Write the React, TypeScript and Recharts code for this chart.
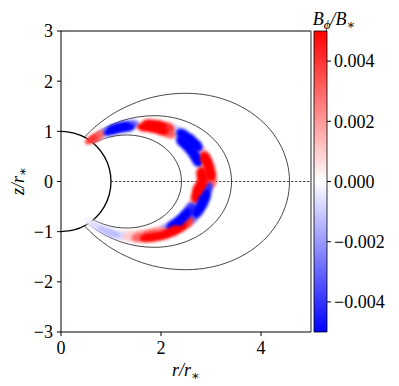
import {
  ComposedChart,
  Line,
  Scatter,
  XAxis,
  YAxis,
  ReferenceLine,
  ReferenceArea,
} from 'recharts'

const SERIF = '"Liberation Serif", Tinos, "Nimbus Roman", "Noto Serif", "DejaVu Serif", serif'

// dipole field lines, northern half [r/r*, z/r*], from footpoint to the equator
const lineInner = [
  [0.644, 0.765], [0.852, 0.852], [1.083, 0.909], [1.325, 0.928], [1.565, 0.904],
  [1.794, 0.837], [2.0, 0.728], [2.172, 0.582], [2.302, 0.406], [2.383, 0.209], [2.41, 0],
]
const lineMiddle = [
  [0.542, 0.841], [0.693, 0.953], [0.906, 1.079], [1.206, 1.206], [1.533, 1.286],
  [1.874, 1.312], [2.215, 1.279], [2.538, 1.184], [2.83, 1.03], [3.073, 0.824],
  [3.257, 0.574], [3.371, 0.295], [3.41, 0],
]
const lineOuter = [
  [0.468, 0.884], [0.68, 1.088], [0.928, 1.277], [1.214, 1.446], [1.616, 1.616],
  [2.054, 1.724], [2.512, 1.758], [2.968, 1.714], [3.402, 1.586], [3.792, 1.38],
  [4.119, 1.104], [4.365, 0.769], [4.518, 0.395], [4.57, 0],
]
// stellar surface, northern half
const starUpper = [
  [0, 1], [0.259, 0.966], [0.5, 0.866], [0.707, 0.707], [0.866, 0.5], [0.966, 0.259], [1, 0],
]

// centre line of the perturbed flux tube, north footpoint -> south footpoint
const bandX = [
  0.589, 0.723, 0.869, 1.025, 1.19, 1.361, 1.536, 1.711, 1.884, 2.051, 2.211, 2.36, 2.495,
  2.613, 2.714, 2.794, 2.852, 2.888, 2.9, 2.819, 2.783, 2.727, 2.649, 2.55, 2.435, 2.303,
  2.158, 2.002, 1.839, 1.67, 1.499, 1.328, 1.161, 1.0, 0.848, 0.706, 0.575,
]
const bandZ = [
  0.811, 0.892, 0.965, 1.025, 1.072, 1.102, 1.116, 1.111, 1.088, 1.045, 0.984, 0.906, 0.811,
  0.7, 0.577, 0.442, 0.3, 0.151, 0, -0.147, -0.293, -0.431, -0.563, -0.683, -0.792, -0.884,
  -0.96, -1.02, -1.062, -1.084, -1.089, -1.076, -1.046, -1.0, -0.942, -0.871, -0.792,
]
// B_phi / B_* (units of 1e-3) on the inner and outer flank of the tube
const bandInner = [
  3, 3, -1, -5, -7, -5, 0, 5, 8, 7, 3, 0, -6,
  -8, -8, -5, 0, 6, 8, 8, 5, 1, -4, -7, -8, -6,
  -2, 2, 3, 2, 1, 0.5, 0, 0, 0, 0, 0,
]
const bandOuter = [
  4, 3, -2, -6, -7, -3, 0, 6, 7, 4, -1, -6, -8,
  -6, 1, 6, 8, 8, 3, -4, -7, -8, -7, -3, 4, 7,
  8, 8, 7, 5, 3, 1, -0.8, -1.3, -1.2, -0.7, -0.3,
]

const rTicks = [0, 2, 4]
const zTicks = [-3, -2, -1, 0, 1, 2, 3]
const cbarTicks = [-0.004, -0.002, 0, 0.002, 0.004]
const cbarLimit = 0.005

const mirror = (pts: number[][]) => [
  ...pts.map(([x, z]) => ({ x, z })),
  ...pts.slice(0, -1).reverse().map(([x, z]) => ({ x, z: -z })),
]

const minus = (s: string) => s.replace('-', '\u2212')

function bwr(v: number) {
  const t = Math.min(Math.abs(v) / (cbarLimit * 1000), 1)
  const c = Math.round(255 * (1 - t))
  return v > 0 ? `rgb(255,${c},${c})` : `rgb(${c},${c},255)`
}

// elongated blob aligned with the neighbouring samples (equal x/z scale)
function BandBlob(props: any) {
  const { cx, cy, payload } = props
  if (Math.abs(payload.v) < 0.3) return <g />
  const ang = (Math.atan2(-(payload.zn - payload.zp), payload.xn - payload.xp) * 180) / Math.PI
  const ry = 3 + 0.9 * payload.x
  return (
    <ellipse
      cx={cx}
      cy={cy}
      rx={7.5}
      ry={ry}
      transform={`rotate(${ang}, ${cx}, ${cy})`}
      fill={bwr(payload.v)}
      filter="url(#soften)"
    />
  )
}

const fontCss = { fontFamily: SERIF }
const tickStyle = { fontFamily: SERIF, fontSize: 18, fill: '#000', style: fontCss }

// the two flanks sit on field lines slightly inside / outside the centre line
const flanks: [number[], number][] = [
  [bandInner, 0.975],
  [bandOuter, 1.035],
]

export default function App() {
  const last = bandX.length - 1
  const bandData = flanks
    .flatMap(([vals, k]) =>
      bandX.map((x, i) => {
        const p = Math.max(i - 1, 0)
        const n = Math.min(i + 1, last)
        return {
          x: x * k,
          z: bandZ[i] * k,
          v: vals[i],
          xp: bandX[p],
          zp: bandZ[p],
          xn: bandX[n],
          zn: bandZ[n],
        }
      }),
    )
    .filter((d) => d.x * d.x + d.z * d.z > 1)
    .sort((a, b) => Math.abs(a.v) - Math.abs(b.v))

  const fieldLines = [lineInner, lineMiddle, lineOuter]
  const cbarSpan = [
    { x: 0.5, z: -cbarLimit },
    { x: 0.5, z: cbarLimit },
  ]

  return (
    <div style={{ position: 'absolute', left: 0, top: 0, width: 399, height: 386, background: '#fff' }}>
      <div style={{ position: 'absolute', left: 0, top: 0 }}>
        <ComposedChart width={320} height={386} margin={{ top: 31, right: 9, bottom: 0, left: 0 }}>
          <defs>
            <filter id="soften" x="-60%" y="-60%" width="220%" height="220%">
              <feGaussianBlur stdDeviation="1.8" />
            </filter>
          </defs>
          <XAxis
            type="number"
            dataKey="x"
            domain={[0, 5]}
            ticks={rTicks}
            allowDataOverflow
            height={54}
            tick={tickStyle}
            tickSize={4}
            tickMargin={5}
            stroke="#000"
            label={() => (
              <text x={186} y={376} textAnchor="middle" fontSize={18} fontStyle="italic" style={fontCss}>
                r/r<tspan fontSize={13} dy={4}>∗</tspan>
              </text>
            )}
          />
          <YAxis
            type="number"
            dataKey="z"
            domain={[-3, 3]}
            ticks={zTicks}
            allowDataOverflow
            width={61}
            tick={tickStyle}
            tickSize={4}
            tickMargin={4}
            stroke="#000"
            tickFormatter={(v: number) => minus(String(v))}
            label={() => (
              <text
                x={18}
                y={181}
                transform="rotate(-90, 18, 181)"
                textAnchor="middle"
                dominantBaseline="central"
                fontSize={18}
                fontStyle="italic"
                style={fontCss}
              >
                z/r<tspan fontSize={13} dy={4}>∗</tspan>
              </text>
            )}
          />
          <Scatter data={bandData} shape={BandBlob} isAnimationActive={false} />
          {fieldLines.map((pts, i) => (
            <Line
              key={i}
              data={mirror(pts)}
              dataKey="z"
              type="natural"
              stroke="#333"
              strokeWidth={0.9}
              dot={false}
              activeDot={false}
              isAnimationActive={false}
            />
          ))}
          <Line
            data={mirror(starUpper)}
            dataKey="z"
            type="natural"
            stroke="#000"
            strokeWidth={1.3}
            dot={false}
            activeDot={false}
            isAnimationActive={false}
          />
          <ReferenceLine
            segment={[{ x: 1, y: 0 }, { x: 5, y: 0 }]}
            stroke="#000"
            strokeWidth={0.7}
            strokeDasharray="2.5 1.5"
          />
          <ReferenceLine y={3} stroke="#000" strokeWidth={1} />
          <ReferenceLine x={5} stroke="#666" strokeWidth={1.4} />
        </ComposedChart>
      </div>
      <div style={{ position: 'absolute', left: 250, top: 0 }}>
        <ComposedChart width={149} height={386} margin={{ top: 31, right: 0, bottom: 54, left: 64 }}>
          <defs>
            <linearGradient id="bwrBar" x1="0" y1="0" x2="0" y2="1">
              <stop offset="0%" stopColor="#ff0000" />
              <stop offset="50%" stopColor="#ffffff" />
              <stop offset="100%" stopColor="#0000ff" />
            </linearGradient>
          </defs>
          <XAxis type="number" dataKey="x" domain={[0, 1]} hide />
          <YAxis
            type="number"
            dataKey="z"
            orientation="right"
            domain={[-cbarLimit, cbarLimit]}
            ticks={cbarTicks}
            allowDataOverflow
            width={72}
            tick={tickStyle}
            tickSize={4}
            tickMargin={3}
            axisLine={false}
            stroke="#000"
            tickFormatter={(v: number) => minus(v.toFixed(3))}
            label={() => (
              <text x={84} y={25} textAnchor="middle" fontSize={18} fontStyle="italic" style={fontCss}>
                B<tspan fontSize={13} dy={4}>ϕ</tspan>
                <tspan fontSize={18} dy={-4}>/B</tspan>
                <tspan fontSize={13} dy={4}>∗</tspan>
              </text>
            )}
          />
          <Line
            data={cbarSpan}
            dataKey="z"
            stroke="none"
            dot={false}
            activeDot={false}
            isAnimationActive={false}
          />
          <ReferenceArea
            x1={0}
            x2={1}
            y1={-cbarLimit}
            y2={cbarLimit}
            fill="url(#bwrBar)"
            fillOpacity={1}
            stroke="#000"
            strokeWidth={0.8}
          />
        </ComposedChart>
      </div>
    </div>
  )
}
